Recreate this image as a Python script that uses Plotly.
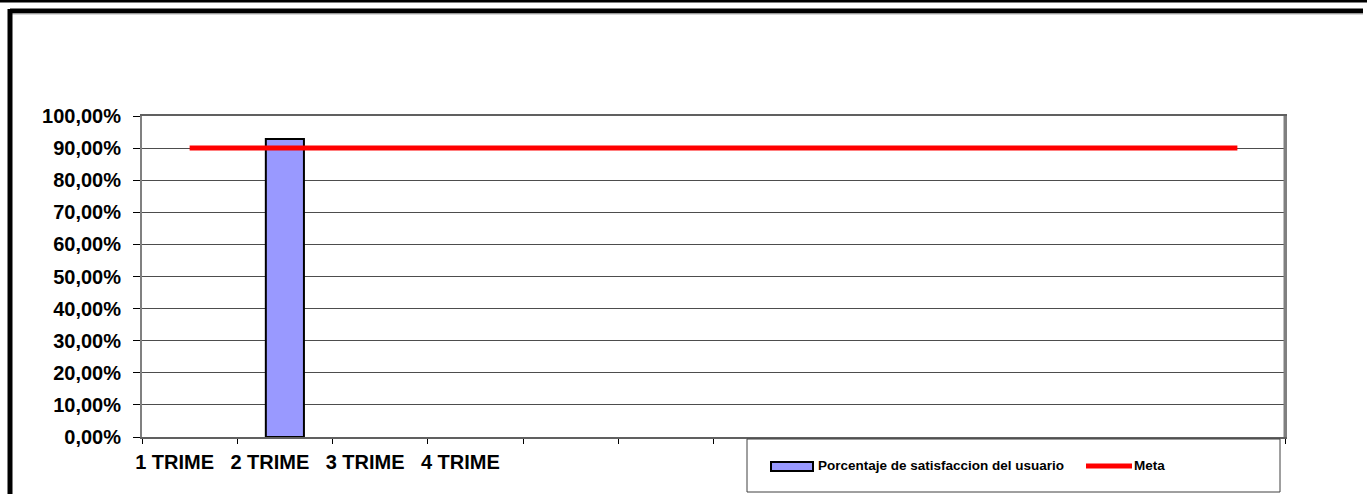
import plotly.graph_objects as go

# ---- data ----
categorias = ["1 TRIME", "2 TRIME", "3 TRIME", "4 TRIME", "", "", "", "", "", "", "", ""]
satisfaccion = [None, 0.928, None, None, None, None, None, None, None, None, None, None]
meta = [0.90] * 12
nombre_barra = "Porcentaje de satisfaccion del usuario"
nombre_meta = "Meta"

W, H = 1367, 494
L, R, T, B = 142, 1285, 116, 437  # plot area in pixels


def px(x):
    return (x - L) / (R - L)


def py(y):
    return (B - y) / (B - T)


idx = list(range(len(categorias)))
FONT = "Liberation Sans, Arial, sans-serif"

fig = go.Figure()
fig.add_trace(go.Bar(
    x=idx, y=satisfaccion, name=nombre_barra, width=0.4,
    marker=dict(color="#9999FF", line=dict(color="black", width=2)),
    showlegend=False,
))
fig.add_trace(go.Scatter(
    x=idx, y=meta, name=nombre_meta, mode="lines",
    line=dict(color="#FF0000", width=5), showlegend=False,
))

labeled = [i for i, c in enumerate(categorias) if c]
fig.update_xaxes(
    range=[-0.5, len(categorias) - 0.5],
    tickmode="array", tickvals=labeled, ticktext=[categorias[i] for i in labeled],
    ticks="", showgrid=False, zeroline=False,
    tickfont=dict(family=FONT, size=20, color="black", weight="bold"),
    ticklabelshift=-15, ticklabelstandoff=6,
    minor=dict(tickmode="array", tickvals=[i - 0.5 for i in range(len(categorias) + 1)],
               ticks="outside", ticklen=5, tickcolor="black", tickwidth=1, showgrid=False),
    showline=True, linecolor="#606060", linewidth=2, mirror=True,
)
fig.update_yaxes(
    range=[0, 1], dtick=0.1, tickformat=".2%",
    ticks="outside", ticklen=7, tickcolor="black", tickwidth=1,
    tickfont=dict(family=FONT, size=20, color="black", weight="bold"),
    ticklabelstandoff=8,
    showgrid=True, gridcolor="#4d4d4d", gridwidth=1, zeroline=False,
    showline=True, linecolor="#808080", linewidth=2, mirror=True,
)

shapes = [
    # outer frame
    dict(type="line", xref="paper", yref="paper", x0=px(0), x1=px(W), y0=py(1), y1=py(1),
         line=dict(color="black", width=3)),
    dict(type="line", xref="paper", yref="paper", x0=px(10), x1=px(1363), y0=py(11), y1=py(11),
         line=dict(color="black", width=5)),
    dict(type="line", xref="paper", yref="paper", x0=px(10), x1=px(1363), y0=py(14), y1=py(14),
         line=dict(color="#b0b0b0", width=1)),
    dict(type="line", xref="paper", yref="paper", x0=px(10), x1=px(10), y0=py(9), y1=py(H + 10),
         line=dict(color="black", width=5)),
    # right border of plot area (thicker)
    dict(type="line", xref="paper", yref="paper", x0=1, x1=1, y0=0, y1=1,
         line=dict(color="#808080", width=3)),
    # legend box
    dict(type="rect", xref="paper", yref="paper", x0=px(747), x1=px(1280), y0=py(439), y1=py(492),
         line=dict(color="#404040", width=1), fillcolor="white"),
    dict(type="rect", xref="paper", yref="paper", x0=px(771), x1=px(813), y0=py(462), y1=py(471),
         line=dict(color="black", width=2), fillcolor="#9999FF"),
    dict(type="line", xref="paper", yref="paper", x0=px(1086), x1=px(1132), y0=py(466), y1=py(466),
         line=dict(color="#FF0000", width=5)),
]
annotations = [
    dict(xref="paper", yref="paper", x=px(816), y=py(466), xanchor="left", yanchor="middle",
         text=nombre_barra, showarrow=False,
         font=dict(family=FONT, size=13.5, color="black", weight="bold")),
    dict(xref="paper", yref="paper", x=px(1132), y=py(466), xanchor="left", yanchor="middle",
         text=nombre_meta, showarrow=False,
         font=dict(family=FONT, size=13.5, color="black", weight="bold")),
]

fig.update_layout(
    width=W, height=H, autosize=False,
    margin=dict(l=L, r=W - R, t=T, b=H - B, pad=0),
    paper_bgcolor="white", plot_bgcolor="white",
    separators=",.", bargap=0.6,
    shapes=shapes, annotations=annotations,
    showlegend=False,
)

fig.write_html("out.html", config={"displayModeBar": False},
               post_script="document.body.style.margin='0';")
